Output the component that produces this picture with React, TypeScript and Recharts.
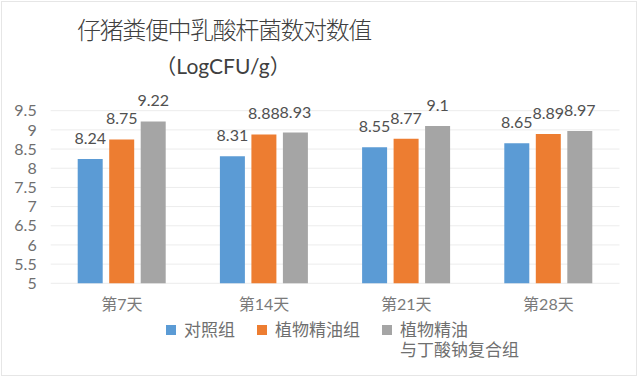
import React from 'react';
import { BarChart, Bar, XAxis, YAxis, CartesianGrid, LabelList, Legend } from 'recharts';

const categories = ['第7天', '第14天', '第21天', '第28天'];
const controlValues = [8.24, 8.31, 8.55, 8.65];
const oilValues = [8.75, 8.88, 8.77, 8.89];
const comboValues = [9.22, 8.93, 9.1, 8.97];
const seriesNames = ['对照组', '植物精油组', '植物精油\n与丁酸钠复合组'];
const seriesKeys = ['control', 'oil', 'combo'];
const seriesColors = ['#5B9BD5', '#ED7D31', '#A5A5A5'];
const yTicks = [5, 5.5, 6, 6.5, 7, 7.5, 8, 8.5, 9, 9.5];
const titleLine1 = '仔猪粪便中乳酸杆菌数对数值';
const titleLine2 = '（LogCFU/g）';

const data = categories.map((c, i) => ({
  category: c,
  control: controlValues[i],
  oil: oilValues[i],
  combo: comboValues[i],
}));

const FONT = "Lato, 'Noto Sans CJK SC', sans-serif";

const renderLegend = (props: any) => {
  const payload = [...(props.payload || [])].sort(
    (a: any, b: any) => seriesNames.indexOf(a.value) - seriesNames.indexOf(b.value)
  );
  return (
    <div style={{ display: 'flex', alignItems: 'flex-start', fontSize: 17, lineHeight: '20px', color: '#6f6f6f', fontFamily: FONT }}>
      {payload.map((e: any, i: number) => (
        <div key={i} style={{ display: 'flex', alignItems: 'flex-start', marginRight: 22 }}>
          <span style={{ width: 10, height: 10, background: e.color, marginTop: 5, marginRight: 8, flex: 'none' }} />
          <span style={{ whiteSpace: 'pre-line' }}>{e.value}</span>
        </div>
      ))}
    </div>
  );
};

export default function App() {
  return (
    <div style={{ position: 'absolute', left: 0, top: 0, width: 642, height: 378, background: '#fff', fontFamily: FONT }}>
      <div style={{ position: 'absolute', left: 1, top: 1, width: 636, height: 375, border: '1px solid #e6e6e6', boxSizing: 'border-box' }} />
      <div style={{ position: 'absolute', left: 0, top: 16, width: 448, textAlign: 'center', fontSize: 24, lineHeight: '28px', letterSpacing: -1.4, color: '#404040', fontWeight: 300 }}>
        {titleLine1}
      </div>
      <div style={{ position: 'absolute', left: 0, top: 52, width: 446, textAlign: 'center', fontSize: 21, lineHeight: '28px', color: '#404040' }}>
        {titleLine2}
      </div>
      <div style={{ position: 'absolute', left: 0, top: 0 }}>
        <BarChart
          width={642}
          height={378}
          data={data}
          margin={{ top: 110.7, right: 22.5, bottom: 64.7, left: 0 }}
          barCategoryGap={27}
          barGap={6.5}
        >
          <CartesianGrid vertical={false} stroke="#ececec" />
          <XAxis
            dataKey="category"
            height={30}
            axisLine={false}
            tickLine={false}
            tickSize={0}
            tickMargin={15}
            interval={0}
            tick={{ fill: '#7a7a7a', fontSize: 16 }}
          />
          <YAxis
            width={50.7}
            domain={[5, 9.5]}
            ticks={yTicks}
            interval={0}
            axisLine={false}
            tickLine={false}
            tickSize={0}
            tickMargin={14}
            tick={{ fill: '#6f6f6f', fontSize: 16 }}
          />
          <Legend
            layout="horizontal"
            verticalAlign="middle"
            align="center"
            wrapperStyle={{ left: 166, top: 320, width: 440 }}
            content={renderLegend}
          />
          {seriesKeys.map((k, i) => (
            <Bar key={k} dataKey={k} name={seriesNames[i]} fill={seriesColors[i]} isAnimationActive={false}>
              <LabelList dataKey={k} position="top" offset={15} fill="#505050" fontSize={16} />
            </Bar>
          ))}
        </BarChart>
      </div>
    </div>
  );
}
